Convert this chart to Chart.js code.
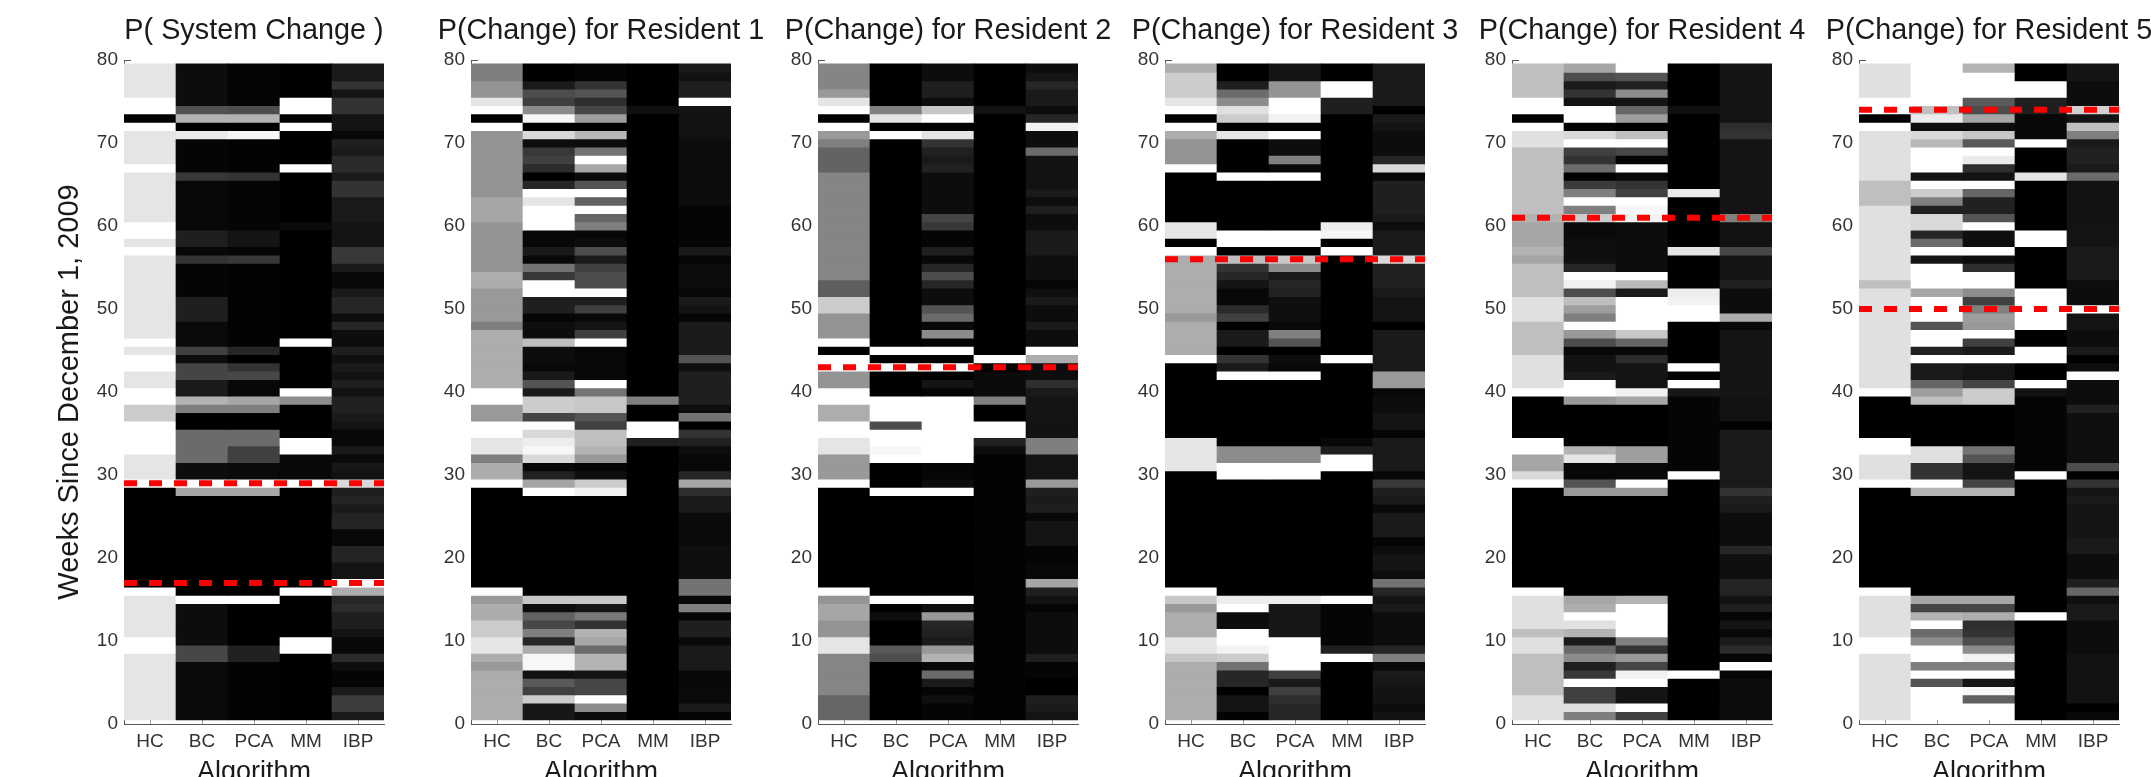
<!DOCTYPE html>
<html>
<head>
<meta charset="utf-8">
<title>P(Change) by algorithm</title>
<script src="https://cdn.jsdelivr.net/npm/chart.js@4"></script>
<style>
  html, body { margin: 0; background: #fff; overflow: hidden; width: 2151px; height: 777px; }
  canvas { position: absolute; top: 0; filter: blur(0.7px); }
</style>
</head>
<body>
<script>
const algorithms = ['HC', 'BC', 'PCA', 'MM', 'IBP'];
const weekTicks = [0, 10, 20, 30, 40, 50, 60, 70, 80];
const lastWeek = 79;

// every list is read as pairs: last week of a run, then P(change) in percent for that run
const sysHC = [8,90, 10,100, 15,90, 16,100, 28,0, 29,100, 32,90, 36,100, 38,80, 40,100, 42,90, 44,100, 45,90, 46,100, 56,90, 57,100, 58,90, 60,100, 66,90, 67,100, 71,90, 72,100, 73,0, 75,100, 79,90];
const sysBC = [7,4, 9,28, 14,5, 15,100, 27,0, 28,65, 29,100, 31,5, 35,42, 37,0, 38,50, 39,70, 41,10, 43,27, 44,5, 45,25, 48,4, 51,12, 55,2, 56,20, 57,3, 59,12, 65,3, 66,22, 70,2, 71,92, 72,0, 73,70, 74,32, 79,5];
const sysPCA = [7,1, 9,13, 14,0, 15,100, 27,0, 28,65, 29,100, 31,4, 33,25, 35,42, 37,0, 38,50, 39,65, 41,3, 42,28, 43,20, 44,0, 45,15, 55,1, 56,22, 57,2, 59,8, 65,2, 66,20, 70,1, 71,97, 72,0, 73,70, 74,30, 79,2];
const sysMM = [8,0, 10,100, 15,0, 16,100, 28,0, 29,100, 32,3, 34,100, 38,0, 39,55, 40,100, 45,0, 46,100, 59,0, 60,4, 66,0, 67,100, 71,0, 72,100, 73,0, 75,100, 79,0];
const sysIBP = [1,10, 3,24, 4,10, 6,2, 7,5, 8,17, 10,3, 11,8, 13,12, 14,18, 15,15, 16,68, 17,100, 19,8, 21,14, 23,3, 25,14, 26,10, 27,14, 28,12, 29,85, 30,7, 31,9, 32,4, 33,10, 35,3, 36,8, 37,10, 39,13, 40,7, 41,12, 42,7, 43,10, 44,6, 45,12, 47,5, 48,15, 49,5, 51,15, 52,10, 54,3, 55,10, 57,22, 60,8, 63,10, 65,20, 66,10, 68,17, 69,10, 70,12, 71,3, 73,8, 75,20, 76,8, 77,20, 79,10];

const r1HC = [6,68, 7,60, 8,68, 10,90, 12,80, 14,68, 15,60, 16,100, 28,0, 29,100, 31,68, 32,50, 34,90, 36,100, 38,60, 40,100, 47,68, 48,50, 52,60, 54,68, 60,58, 63,65, 71,58, 72,100, 73,0, 74,100, 75,90, 77,58, 79,50];
const r1BC = [2,9, 3,80, 4,25, 5,35, 6,7, 8,97, 9,68, 10,15, 11,50, 12,28, 13,38, 14,5, 15,78, 27,0, 28,100, 29,65, 30,13, 31,3, 32,85, 33,97, 34,93, 35,85, 36,100, 37,27, 39,80, 40,10, 41,33, 42,10, 43,3, 45,5, 46,75, 48,5, 49,2, 51,12, 53,100, 54,22, 55,45, 56,3, 57,10, 59,3, 62,100, 63,90, 64,100, 65,15, 66,0, 67,17, 68,25, 69,22, 70,5, 71,85, 72,0, 73,97, 74,55, 75,25, 76,30, 77,10, 79,0];
const r1PCA = [1,5, 2,55, 3,100, 4,28, 5,27, 6,8, 8,70, 9,42, 10,65, 11,70, 12,20, 13,48, 14,8, 15,78, 27,0, 28,95, 29,80, 30,6, 31,2, 32,60, 33,70, 35,75, 36,25, 37,33, 39,78, 40,45, 41,100, 45,3, 46,100, 47,25, 48,8, 49,3, 50,25, 51,12, 52,100, 54,30, 55,25, 56,10, 57,30, 58,5, 59,3, 60,50, 61,40, 62,100, 63,38, 64,100, 65,33, 66,4, 67,65, 68,100, 69,45, 70,5, 71,72, 72,0, 73,62, 74,28, 75,18, 76,33, 77,20, 79,2];
const r1MM = [33,0, 34,12, 36,100, 38,0, 39,50, 73,0, 74,6, 79,0];
const r1IBP = [1,2, 2,10, 4,4, 6,3, 9,10, 10,4, 12,12, 13,2, 14,50, 15,3, 17,45, 21,6, 25,4, 27,10, 28,18, 29,65, 30,15, 32,3, 33,5, 34,13, 35,20, 36,0, 37,45, 38,5, 42,12, 43,6, 44,33, 48,10, 49,2, 50,8, 51,10, 52,3, 55,5, 56,2, 57,10, 62,2, 64,5, 70,5, 73,7, 74,8, 75,100, 77,12, 78,7, 79,10];

const r2HC = [3,40, 8,52, 10,90, 12,58, 14,65, 15,58, 16,100, 28,0, 29,100, 32,60, 34,90, 36,100, 38,68, 40,100, 42,58, 44,100, 45,0, 46,100, 49,58, 51,80, 53,37, 66,52, 69,39, 70,50, 71,60, 72,100, 73,0, 74,100, 75,90, 76,60, 79,52];
const r2BC = [7,0, 8,30, 9,35, 12,0, 13,5, 14,0, 15,100, 27,0, 28,100, 31,0, 32,100, 33,97, 35,100, 36,30, 39,100, 42,0, 43,100, 44,0, 45,100, 70,0, 71,100, 72,0, 73,90, 74,50, 79,0];
const r2PCA = [2,2, 3,6, 4,2, 5,10, 6,42, 7,3, 8,70, 9,60, 10,10, 11,13, 12,15, 13,60, 14,5, 15,100, 27,0, 28,100, 29,5, 31,2, 39,100, 40,2, 41,8, 42,0, 43,100, 44,0, 45,100, 46,2, 47,55, 48,3, 49,42, 50,33, 52,5, 53,15, 54,30, 55,15, 56,3, 57,12, 59,2, 60,22, 61,27, 66,5, 67,13, 68,10, 69,13, 70,20, 71,90, 72,0, 73,100, 74,78, 75,5, 77,12, 79,5];
const r2MM = [32,1, 33,5, 34,13, 36,100, 38,0, 39,50, 42,4, 43,0, 44,100, 73,0, 74,7, 79,0];
const r2IBP = [1,8, 2,10, 3,12, 5,0, 7,2, 8,12, 13,5, 14,2, 15,7, 16,12, 17,65, 19,3, 21,2, 24,8, 25,3, 26,12, 27,10, 28,12, 29,60, 32,8, 34,50, 36,7, 39,8, 40,10, 41,18, 43,5, 44,68, 45,100, 47,5, 48,10, 50,5, 51,10, 52,6, 53,2, 56,6, 59,10, 61,5, 62,12, 63,5, 64,10, 68,7, 69,42, 71,5, 72,95, 73,15, 74,5, 76,10, 77,15, 78,8, 79,5];

const r3HC = [7,68, 8,78, 10,90, 13,68, 14,60, 15,78, 16,100, 30,0, 34,90, 43,0, 44,100, 48,68, 49,60, 56,68, 57,100, 58,0, 60,90, 66,0, 67,100, 70,58, 71,68, 72,100, 73,0, 74,100, 75,90, 78,80, 79,68];
const r3BC = [1,1, 3,8, 4,0, 6,15, 7,45, 8,80, 9,95, 11,100, 13,5, 14,100, 15,93, 29,0, 31,100, 33,55, 41,0, 42,100, 43,10, 44,20, 45,0, 47,10, 48,0, 49,25, 50,17, 52,3, 53,8, 54,15, 55,20, 56,75, 57,0, 59,100, 65,0, 66,100, 70,0, 71,90, 72,0, 73,80, 74,88, 75,55, 76,42, 77,12, 79,0];
const r3PCA = [2,15, 3,18, 4,25, 5,10, 6,25, 10,100, 14,9, 15,93, 29,0, 31,100, 33,55, 41,0, 42,100, 43,3, 44,5, 45,0, 46,33, 47,50, 48,3, 51,6, 52,13, 53,15, 54,10, 55,55, 56,78, 57,0, 59,100, 65,0, 66,100, 67,3, 68,50, 70,5, 71,100, 72,0, 73,95, 75,100, 77,58, 79,8];
const r3MM = [7,0, 8,100, 9,12, 14,2, 15,100, 30,0, 32,100, 33,12, 34,3, 43,0, 44,100, 56,0, 57,100, 58,0, 59,97, 60,93, 73,0, 75,12, 77,100, 79,0];
const r3IBP = [1,7, 2,5, 4,7, 5,9, 6,10, 7,3, 8,50, 9,15, 13,5, 14,10, 15,8, 16,15, 17,45, 18,5, 20,8, 21,5, 22,2, 25,10, 26,3, 27,10, 28,12, 29,22, 30,3, 34,10, 35,2, 37,8, 39,5, 40,3, 42,60, 47,10, 48,0, 51,8, 52,10, 55,13, 56,85, 59,10, 60,5, 61,10, 65,12, 66,3, 67,85, 68,15, 71,5, 72,8, 73,10, 74,0, 79,10];

const r4HC = [3,88, 8,75, 10,88, 11,75, 15,88, 16,100, 28,0, 29,100, 30,85, 32,65, 34,100, 39,0, 40,100, 44,88, 48,75, 51,88, 55,75, 56,65, 57,70, 60,65, 61,70, 69,75, 71,88, 72,100, 73,0, 75,100, 79,75];
const r4BC = [1,50, 2,88, 4,25, 5,100, 6,22, 7,12, 8,55, 9,42, 10,10, 11,70, 12,88, 13,100, 14,68, 15,65, 27,0, 28,60, 29,33, 31,3, 32,90, 33,70, 38,0, 39,60, 41,100, 42,10, 44,7, 45,3, 46,30, 47,60, 48,100, 49,50, 50,62, 51,75, 52,30, 53,95, 54,100, 55,15, 58,6, 60,4, 61,80, 62,50, 63,100, 64,50, 65,23, 66,0, 67,42, 68,20, 69,25, 70,100, 71,85, 72,2, 74,100, 75,7, 76,20, 77,10, 78,30, 79,65];
const r4PCA = [1,25, 2,100, 4,8, 5,100, 6,95, 7,27, 8,60, 9,20, 10,50, 14,100, 15,70, 27,0, 28,60, 29,100, 31,3, 33,62, 38,0, 39,65, 40,95, 43,8, 44,17, 45,3, 46,40, 47,78, 51,100, 52,10, 53,73, 54,100, 60,5, 61,95, 62,97, 63,100, 64,25, 65,20, 66,3, 67,100, 68,2, 69,28, 70,100, 71,75, 72,0, 73,62, 74,40, 75,8, 76,55, 77,12, 78,33, 79,100];
const r4MM = [5,0, 6,100, 29,0, 30,100, 39,2, 40,9, 41,100, 42,0, 43,100, 48,0, 50,100, 51,95, 52,93, 56,0, 57,90, 63,0, 64,92, 73,0, 74,6, 79,0];
const r4IBP = [5,5, 6,2, 7,100, 8,2, 9,17, 10,10, 11,3, 12,8, 13,2, 14,12, 15,7, 17,14, 20,6, 21,15, 25,5, 26,10, 27,12, 28,20, 29,10, 35,10, 36,0, 39,7, 47,8, 48,3, 49,68, 52,5, 53,13, 56,8, 57,28, 60,7, 61,50, 70,8, 71,20, 72,18, 79,8];

const r5HC = [8,88, 10,100, 15,88, 16,100, 28,0, 29,100, 32,88, 34,100, 39,0, 40,100, 52,88, 53,75, 62,88, 65,75, 71,88, 72,100, 73,0, 75,100, 79,88];
const r5BC = [4,100, 5,33, 6,100, 7,50, 9,100, 10,55, 11,42, 12,100, 13,70, 14,27, 15,65, 27,0, 28,70, 29,100, 31,20, 33,88, 38,0, 39,75, 40,62, 41,40, 43,10, 44,100, 45,13, 47,100, 48,33, 51,100, 52,65, 55,100, 56,8, 57,100, 58,42, 59,15, 61,85, 62,13, 63,50, 64,80, 65,100, 66,8, 69,100, 70,72, 71,85, 72,5, 73,92, 74,75, 79,100];
const r5PCA = [2,100, 3,38, 4,97, 5,8, 6,100, 7,50, 8,95, 9,55, 10,30, 11,20, 12,18, 13,68, 14,27, 15,65, 27,0, 28,70, 29,27, 31,8, 32,33, 33,45, 38,0, 40,80, 41,27, 43,8, 44,100, 45,10, 46,25, 47,100, 48,60, 49,62, 50,50, 51,25, 52,55, 54,100, 55,18, 56,5, 57,100, 59,6, 60,100, 61,33, 63,13, 64,40, 65,100, 66,7, 67,18, 68,92, 69,100, 70,35, 71,78, 72,5, 73,65, 74,30, 75,35, 78,100, 79,70];
const r5MM = [12,0, 13,100, 29,0, 30,100, 39,2, 40,7, 41,100, 43,0, 45,100, 47,0, 52,100, 57,0, 59,100, 65,0, 66,90, 69,0, 70,100, 73,3, 75,12, 77,100, 79,0];
const r5IBP = [1,3, 2,0, 8,7, 12,5, 14,10, 15,6, 16,40, 17,12, 20,5, 22,10, 26,8, 27,10, 28,8, 29,20, 30,0, 31,30, 37,6, 38,13, 41,5, 42,100, 43,5, 44,0, 45,10, 47,5, 49,8, 50,100, 53,5, 57,10, 60,8, 65,7, 66,42, 67,10, 69,13, 70,10, 71,50, 72,75, 73,8, 74,82, 77,5, 79,8];

// week of each known change (the red dashed lines)
const sysChanges = [17, 29];
const r1Changes = [];
const r2Changes = [43];
const r3Changes = [56];
const r4Changes = [61];
const r5Changes = [50, 74];

const panels = [
  { title: 'P( System Change )', cols: [sysHC, sysBC, sysPCA, sysMM, sysIBP], changes: sysChanges, left: 0 },
  { title: 'P(Change) for Resident 1', cols: [r1HC, r1BC, r1PCA, r1MM, r1IBP], changes: r1Changes, left: 347 },
  { title: 'P(Change) for Resident 2', cols: [r2HC, r2BC, r2PCA, r2MM, r2IBP], changes: r2Changes, left: 694 },
  { title: 'P(Change) for Resident 3', cols: [r3HC, r3BC, r3PCA, r3MM, r3IBP], changes: r3Changes, left: 1041 },
  { title: 'P(Change) for Resident 4', cols: [r4HC, r4BC, r4PCA, r4MM, r4IBP], changes: r4Changes, left: 1388 },
  { title: 'P(Change) for Resident 5', cols: [r5HC, r5BC, r5PCA, r5MM, r5IBP], changes: r5Changes, left: 1735 }
];

// value of one week in a run list
function valueAt(runs, week) {
  for (let i = 0; i < runs.length; i += 2) {
    if (week <= runs[i]) return runs[i + 1];
  }
  return 0;
}

function grey(percent) {
  const g = Math.round(percent * 2.55);
  return `rgb(${g},${g},${g})`;
}

function buildDatasets(panel) {
  const datasets = [];
  // one floating bar per algorithm per week, upper weeks painted last so seams stay closed
  for (let week = 1; week <= lastWeek; week++) {
    datasets.push({
      data: algorithms.map(() => [week - 0.5, week + 0.55]),
      backgroundColor: panel.cols.map(col => grey(valueAt(col, week))),
      borderWidth: 0,
      grouped: false,
      barPercentage: 1,
      categoryPercentage: 1,
      order: lastWeek + 1 - week
    });
  }
  panel.changes.forEach(week => {
    datasets.push({
      type: 'line',
      data: [{ x: 0.5, y: week }, { x: 5.5, y: week }],
      xAxisID: 'xLine',
      borderColor: '#ff0000',
      borderWidth: 6,
      borderDash: [13, 12],
      pointRadius: 0,
      clip: false,
      order: 0
    });
  });
  return datasets;
}

panels.forEach((panel, index) => {
  const canvas = document.createElement('canvas');
  // symmetric around the plot so the title centres on it and can run wider than the plot
  canvas.width = 508;
  canvas.height = 795;
  canvas.style.left = panel.left + 'px';
  document.body.appendChild(canvas);

  new Chart(canvas, {
    type: 'bar',
    data: { labels: algorithms, datasets: buildDatasets(panel) },
    options: {
      responsive: false,
      animation: false,
      events: [],
      devicePixelRatio: 1,
      plugins: {
        legend: { display: false },
        tooltip: { enabled: false },
        title: {
          display: true,
          text: panel.title,
          color: '#1a1a1a',
          font: { family: 'Liberation Sans', size: 28.8, weight: 'normal', lineHeight: 1.2 },
          padding: { top: 14, bottom: 11.5 }
        }
      },
      scales: {
        x: {
          offset: true,
          afterFit: s => { s.height = 71; },
          grid: { offset: false, drawOnChartArea: false, tickLength: -6, color: '#999' },
          border: { color: '#555' },
          ticks: { color: '#333', padding: 12, font: { family: 'Liberation Sans', size: 19 }, maxRotation: 0 },
          title: {
            display: true,
            text: 'Algorithm',
            color: '#1a1a1a',
            font: { family: 'Liberation Sans', size: 27 },
            padding: { top: 0, bottom: 6 }
          }
        },
        xLine: { type: 'linear', display: false, offset: false, min: 0.5, max: 5.5 },
        y: {
          min: 0,
          max: 80,
          afterFit: s => { s.width = 124; },
          afterBuildTicks: s => { s.ticks = weekTicks.map(value => ({ value })); },
          grid: { drawOnChartArea: false, tickLength: -7, color: '#555' },
          border: { color: '#555' },
          ticks: { color: '#333', padding: 13, font: { family: 'Liberation Sans', size: 19 } },
          title: {
            display: index === 0,
            text: 'Weeks Since December 1, 2009',
            color: '#1a1a1a',
            font: { family: 'Liberation Sans', size: 29 },
            padding: { top: 53, bottom: 0 }
          }
        },
        // empty right-hand box, same width as the left axis
        ySpacer: {
          position: 'right',
          afterFit: s => { s.width = 124; },
          grid: { display: false },
          border: { display: false },
          ticks: { display: false }
        }
      }
    }
  });
});
</script>
</body>
</html>
